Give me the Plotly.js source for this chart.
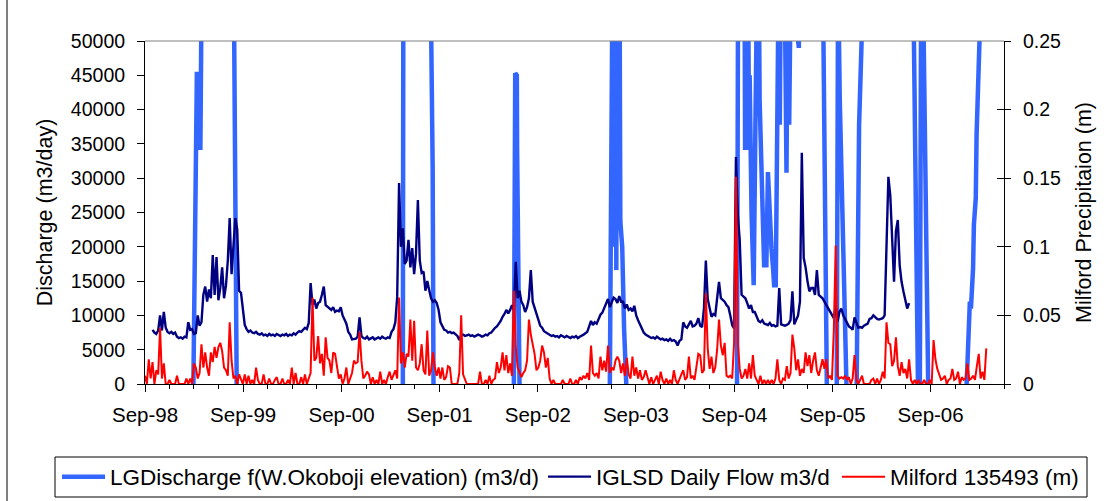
<!DOCTYPE html>
<html><head><meta charset="utf-8">
<script src="https://cdn.plot.ly/plotly-3.0.1.min.js"></script>
<style>html,body{margin:0;padding:0;background:#fff}#chart{width:1113px;height:501px}</style>
</head><body><div id="chart"></div>
<script>
// ---- tick labels ----
const xTickDates = ['1998-09-01','1999-09-01','2000-09-01','2001-09-01','2002-09-01','2003-09-01','2004-09-01','2005-09-01','2006-09-01'];
const xTickLabels = ['Sep-98','Sep-99','Sep-00','Sep-01','Sep-02','Sep-03','Sep-04','Sep-05','Sep-06'];

// ---- LGDischarge f(W.Okoboji elevation) (m3/d): read values; null = no discharge shown between events ----
const lgDates = ['1999-02-28','1999-03-03','1999-03-10','1999-03-13','1999-03-15','1999-03-18','1999-03-21','1999-03-24','1999-03-26','1999-03-31','1999-07-28','1999-08-03','1999-08-08',
 '2000-06-01',
 '2001-04-17','2001-04-19','2001-07-29','2001-08-04','2001-08-06','2001-08-09',
 '2002-01-01',
 '2002-06-04','2002-06-09','2002-06-15','2002-06-16','2002-06-25',
 '2003-01-01',
 '2003-05-27','2003-05-30','2003-06-02','2003-06-06','2003-06-09','2003-06-12','2003-06-15','2003-06-17','2003-06-20','2003-06-23','2003-06-26','2003-06-29','2003-07-02','2003-07-05','2003-07-12','2003-07-19','2003-07-27',
 '2004-01-01',
 '2004-09-11','2004-09-15','2004-10-09','2004-10-11','2004-10-15','2004-10-18','2004-10-22','2004-10-26','2004-10-28','2004-11-04','2004-11-12','2004-11-19','2004-11-25','2004-11-29','2004-12-01','2004-12-04','2004-12-16','2004-12-21','2004-12-25','2004-12-29',
 '2005-01-04','2005-01-10','2005-01-17','2005-01-23','2005-01-27','2005-02-02','2005-02-13','2005-02-17','2005-02-21','2005-03-07','2005-03-14','2005-03-19','2005-03-24','2005-03-30','2005-04-29','2005-05-01','2005-07-27','2005-08-11',
 '2005-09-01',
 '2005-09-17','2005-09-22','2005-09-28','2005-10-05','2005-10-13','2005-10-23',
 '2005-11-10',
 '2005-11-30','2005-12-09','2005-12-18','2005-12-24',
 '2006-06-28','2006-07-16','2006-07-20','2006-07-23','2006-07-28','2006-08-03','2006-08-12','2006-08-23',
 '2006-11-01',
 '2007-01-13','2007-01-19','2007-01-25','2007-01-29','2007-02-06','2007-02-09','2007-02-16','2007-02-19','2007-02-25','2007-03-01','2007-03-03'];
const lgValues = [0,11800,37000,45500,34100,45000,34500,45500,34100,60000,60000,7400,0,
 null,
 0,60000,60000,37500,31200,0,
 null,
 0,45300,45000,34400,0,
 null,
 0,25000,60000,60000,30000,60000,20000,60000,16600,60000,28000,60000,60000,23700,20000,8000,0,
 null,
 0,60000,60000,34100,60000,36000,60000,34100,45000,25000,14400,40000,60000,41400,60000,41400,19800,17000,19800,17000,
 30900,23600,19800,16900,14400,14400,60000,37800,60000,60000,30800,60000,37800,60000,49000,60000,60000,0,
 null,
 0,60000,41700,30000,15000,0,
 null,
 0,37800,49500,60000,
 60000,0,null,0,60000,60000,26600,0,
 null,
 0,7100,12000,11000,16900,23200,27100,36300,49000,49000,51000];

// ---- IGLSD Daily Flow m3/d: values read weekly from 1998-09-29 ----
const flowStart = '1998-09-29';
const flowWeekly = [
 7900,7500,7300,7800,10000,7800,10500,8200,7600,7400,
 7600,7300,7500,6900,6700,6800,6600,6900,6800,9000,
 7900,8000,7300,7400,10000,8500,9000,13000,14200,12000,
 13800,12500,18800,13000,18500,12200,14000,17000,12500,14300,
 18000,24200,16000,20000,24200,22500,13600,13300,10800,8600,
 8000,7600,7800,7500,7400,7600,7300,7200,7400,7100,
 7200,7000,7300,7100,7200,7000,7300,7100,7000,7200,
 7100,7300,7000,7200,7100,7400,7200,7500,7700,7600,
 7900,8200,8000,8900,14700,11500,12300,11000,11800,12000,
 13000,14200,11500,11300,11000,10800,11200,10500,10700,10600,
 11200,10000,9400,8800,7600,7200,6500,6500,6600,6900,
 9700,7000,6700,6600,6900,6500,6700,6800,6500,6600,
 6800,6600,6900,6700,6600,6800,6700,7600,8000,9000,
 12700,29300,20000,22700,17500,18000,21000,17000,19800,16000,
 19000,26800,18000,16200,16400,13600,15000,13700,12500,12000,
 12200,11800,10800,9000,8400,7900,7800,7500,7600,7400,
 7500,7300,7000,6400,7100,7200,7000,7100,7200,7000,
 7100,6900,7000,7200,7100,6900,7000,7200,7100,7400,
 7500,7900,8200,8400,8800,9200,9800,10200,10800,10300,
 10800,11500,10800,17800,12500,13600,12000,11500,10500,11200,
 12500,16600,12000,11000,10000,9400,8500,8200,7700,7500,
 7300,7200,7000,7100,6900,7000,6800,7100,6900,6800,
 7000,6800,6700,6900,6800,7000,6700,6900,7000,7200,
 7400,7600,8400,9200,8600,9000,8800,9500,10100,10400,
 11000,11800,12400,11200,12000,12600,12400,11800,12800,12000,
 12000,11000,11600,10800,11000,10600,11400,10000,9300,8600,
 8000,7500,7200,7000,6900,6700,6800,6600,6900,6700,
 6500,6600,6400,6500,6300,6600,6300,6400,6200,5600,
 6300,6500,9000,8400,8200,8700,9200,8400,8500,8800,
 9600,8500,8300,11000,18000,12400,11000,9800,10200,10000,
 12500,14900,12500,12200,12000,11500,11200,10000,8600,8100,
 33100,24600,21000,13000,12800,12500,11800,11000,11500,10500,
 10500,9700,9200,9000,9300,8800,8700,8600,8900,8500,
 8600,8400,8500,14000,8700,8600,8500,8600,8800,9300,
 13500,8700,9500,10000,12000,33700,18400,17000,15000,13500,
 14000,14000,13000,16600,13000,12800,12500,12000,11500,11000,
 10500,10000,9600,11300,9100,10500,11000,10000,9500,9100,
 8400,8200,7900,9700,9000,8200,8300,8200,8500,8600,
 8800,9500,9600,10000,9700,9500,9400,9500,9600,10000,
 18800,30200,27500,20000,14900,22300,23900,17300,14900,13500,
 12000,11000,11800];

// ---- Milford 135493 (m): precipitation read weekly from 1998-09-01 ----
const precipStart = '1998-09-01';
const precipWeekly = [
 0.006,0,0.018,0.004,0.016,0,0.010,0.007,0.041,0.004,
 0.015,0,0,0.003,0,0,0,0.006,0,0,
 0,0,0.004,0,0.004,0,0.015,0.012,0.004,0.008,
 0.029,0.012,0.023,0.012,0.006,0.023,0.016,0.027,0.019,0.027,
 0.030,0.024,0.012,0.010,0.006,0.045,0.017,0.004,0.006,0,
 0.007,0.003,0,0.007,0,0.006,0,0.003,0,0.012,
 0.003,0,0,0.007,0,0,0.004,0,0,0.003,
 0.005,0,0,0.004,0,0,0.003,0,0.012,0,
 0.008,0,0,0.005,0,0.007,0,0.004,0.008,0.063,
 0.017,0.019,0.035,0.015,0.022,0.006,0.034,0.019,0.017,0.008,
 0.023,0.022,0.012,0.004,0.007,0,0.004,0.012,0,0.005,
 0.008,0.017,0.015,0.016,0.038,0.017,0.004,0.006,0.009,0.007,
 0,0.005,0,0.003,0,0.009,0,0.003,0,0.005,
 0.009,0.003,0.006,0.010,0.004,0.063,0.015,0.023,0.012,0.022,
 0.020,0.047,0.017,0.046,0.012,0.010,0.015,0.029,0.010,0.007,
 0.039,0.006,0.010,0.023,0.012,0.006,0.012,0.004,0.012,0.003,
 0.005,0.013,0.012,0,0,0,0,0.008,0.050,0.007,
 0.003,0,0,0,0,0,0,0,0.009,0,
 0,0.003,0,0.006,0,0.003,0.004,0.016,0.008,0.012,
 0.023,0.010,0.021,0.008,0.015,0.006,0.068,0.027,0.012,0.008,
 0.005,0.008,0.010,0.017,0.047,0.036,0.029,0.022,0.010,0.012,
 0.017,0.028,0.023,0.012,0.019,0.004,0,0.003,0,0,
 0,0,0.003,0,0,0,0.004,0,0,0.003,
 0,0.005,0.003,0.006,0.004,0.008,0.003,0.028,0.008,0.006,
 0.008,0.004,0.020,0.010,0.017,0.009,0.028,0.008,0.012,0.010,
 0.017,0.020,0.017,0.008,0.015,0.006,0.019,0.007,0.004,0.020,
 0.006,0.012,0.004,0.010,0.003,0.005,0.010,0.004,0,0.005,
 0,0.003,0.006,0,0.009,0.003,0,0.004,0,0.003,
 0,0.010,0.003,0,0.004,0.007,0.010,0.003,0.005,0.020,
 0.004,0.006,0.003,0.013,0.022,0.021,0.008,0.010,0.066,0.026,
 0.011,0.020,0.008,0.012,0.025,0.047,0.028,0.021,0.030,0.006,
 0.005,0.006,0.004,0.030,0.151,0.030,0.011,0.004,0.006,0.011,
 0.004,0.015,0.004,0.021,0.006,0.003,0,0.006,0,0.003,
 0,0.003,0,0.003,0,0.004,0.018,0.003,0,0.004,
 0.003,0.013,0.004,0.008,0.036,0.026,0.010,0.018,0.006,0.011,
 0.008,0.023,0.013,0.021,0.008,0.017,0.023,0.010,0.006,0.012,
 0.018,0.011,0.018,0.004,0.006,0.003,0.039,0.101,0.006,0.004,
 0.005,0.004,0.006,0.003,0.005,0,0.004,0.021,0.003,0,
 0.003,0.006,0,0,0,0,0.003,0.004,0,0.004,
 0,0.003,0.009,0.004,0.045,0.030,0.029,0.013,0.017,0.034,
 0.013,0.006,0.016,0.008,0.011,0.004,0.018,0.003,0,0.003,
 0,0.003,0,0,0.003,0,0,0.003,0,0.032,
 0.018,0.011,0.007,0.003,0.004,0.006,0,0.003,0.004,0.011,
 0.003,0.004,0.009,0,0.005,0.003,0.004,0.015,0.003,0.004,
 0.006,0.003,0.013,0.022,0.004,0.009,0.003,0.026];

// weekly sample dates
function weeklyDates(start, n) {
  const t0 = Date.parse(start + 'T00:00:00Z');
  const out = [];
  for (let i = 0; i < n; i++) out.push(new Date(t0 + i * 7 * 86400000).toISOString().slice(0, 10));
  return out;
}
const flowDates = weeklyDates(flowStart, flowWeekly.length);
const precipDates = weeklyDates(precipStart, precipWeekly.length);

const FONT = 'Liberation Sans, Arial, sans-serif';

const traces = [
  {x: lgDates, y: lgValues, type: 'scatter', mode: 'lines', name: 'LGDischarge f(W.Okoboji elevation) (m3/d)',
   line: {color: '#3366FF', width: 4.5}, connectgaps: false, legend: 'legend'},
  {x: flowDates, y: flowWeekly, type: 'scatter', mode: 'lines', name: 'IGLSD Daily Flow m3/d',
   line: {color: '#000080', width: 2.4}, legend: 'legend2'},
  {x: precipDates, y: precipWeekly, type: 'scatter', mode: 'lines', name: 'Milford 135493 (m)',
   line: {color: '#FF0000', width: 2}, yaxis: 'y2', legend: 'legend3'},
  {x: [], y: [], yaxis: 'y3', showlegend: false, hoverinfo: 'skip'}
];

const P = (px) => (px - 145) / 859;        // horizontal paper helper (layout only)
const Q = (py) => (384 - py) / 343;        // vertical paper helper (layout only)
const legFont = {family: FONT, size: 22.5, color: '#000'};
const legBase = {orientation: 'h', xanchor: 'left', yanchor: 'middle', y: Q(477), bgcolor: 'rgba(0,0,0,0)',
  borderwidth: 0, font: legFont, itemwidth: 43};

const layout = {
  width: 1113, height: 501,
  margin: {l: 145, r: 109, t: 41, b: 117, autoexpand: false},
  paper_bgcolor: '#fff', plot_bgcolor: '#fff',
  font: {family: FONT, color: '#000'},
  showlegend: true,
  xaxis: {
    type: 'date', range: ['1998-09-01', '2007-06-01'],
    tickmode: 'array', tickvals: xTickDates, ticktext: xTickLabels,
    ticks: 'outside', ticklen: 7, tickcolor: '#000', tickwidth: 1,
    minor: {dtick: 'M3', tick0: '1998-09-01', ticks: 'outside', ticklen: 4, tickcolor: '#000'},
    showline: true, linecolor: '#000', linewidth: 1, showgrid: false, zeroline: false,
    tickfont: {family: FONT, size: 20.5, color: '#000'}, ticklabelstandoff: 5
  },
  yaxis: {
    range: [0, 50000], dtick: 5000, tick0: 0, tickformat: 'd',
    ticks: 'outside', ticklen: 7, tickcolor: '#000',
    showline: true, linecolor: '#000', linewidth: 1, showgrid: false, zeroline: false,
    tickfont: {family: FONT, size: 19.5, color: '#000'}, ticklabelstandoff: 8,
    title: {text: 'Discharge (m3/day)', font: {family: FONT, size: 21.5, color: '#000'}, standoff: 12}
  },
  yaxis2: {
    range: [0, 0.25], dtick: 0.05, tick0: 0, overlaying: 'y', side: 'right', anchor: 'x',
    ticks: 'outside', ticklen: 6, tickcolor: '#000',
    showline: true, linecolor: '#000', linewidth: 1, showgrid: false, zeroline: false,
    tickfont: {family: FONT, size: 19.5, color: '#000'}, ticklabelstandoff: 8,
    title: {text: 'Milford Precipitaion (m)', font: {family: FONT, size: 21.5, color: '#000'}, standoff: 15}
  },
  yaxis3: {
    range: [0, 0.25], dtick: 0.05, tick0: 0, overlaying: 'y', side: 'right', anchor: 'x',
    ticks: 'inside', ticklen: 7, tickcolor: '#000', showticklabels: false,
    showline: false, showgrid: false, zeroline: false
  },
  legend: Object.assign({}, legBase, {x: P(57)}),
  legend2: Object.assign({}, legBase, {x: P(543)}),
  legend3: Object.assign({}, legBase, {x: P(837)}),
  shapes: [
    {type: 'line', xref: 'paper', yref: 'paper', x0: 0, x1: 1, y0: 1, y1: 1, line: {color: '#808080', width: 1}},
    {type: 'rect', xref: 'paper', yref: 'paper', x0: P(55), x1: P(1087), y0: Q(497), y1: Q(457), line: {color: '#000', width: 1}},
    {type: 'line', xref: 'paper', yref: 'paper', x0: P(7), x1: P(7), y0: Q(501), y1: Q(0), line: {color: '#000', width: 1}}
  ]
};

Plotly.newPlot('chart', traces, layout, {staticPlot: true, displayModeBar: false});
</script>
</body></html>
